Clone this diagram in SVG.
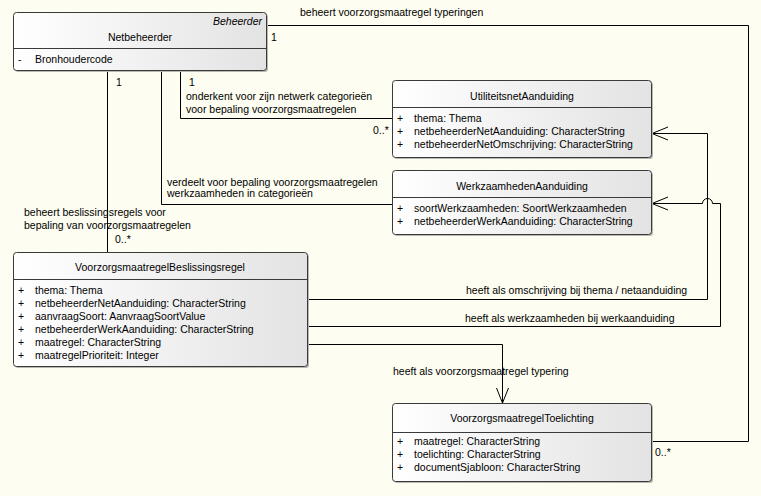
<svg xmlns="http://www.w3.org/2000/svg" width="761" height="496" viewBox="0 0 761 496">
<defs>
<linearGradient id="g" x1="0" y1="0" x2="1" y2="0">
<stop offset="0" stop-color="#FFFFFF"/>
<stop offset="1" stop-color="#E3E3E3"/>
</linearGradient>
<style>
text{font-family:"Liberation Sans",Arial,sans-serif;font-size:10.5px;fill:#000}
.t{text-anchor:middle}
.i{font-style:italic}
.box{fill:url(#g);stroke:#3a3a3a;stroke-width:1}
.sh{fill:#b8b8b0}
.sep{stroke:#3a3a3a;stroke-width:1}
.c{fill:none;stroke:#000;stroke-width:1}
</style>
</defs>
<rect width="761" height="496" fill="#FDFDF1"/>

<g id="connectors">
<path class="c" d="M266,25.5 H748.5 V441.5 H652"/>
<path class="c" d="M107.5,70 V252"/>
<path class="c" d="M180.5,70 V118.5 H392"/>
<path class="c" d="M161.5,70 V204.5 H392"/>
<path class="c" d="M307,299.5 H707.5 V133.5 H652"/>
<path class="c" d="M652,133.5 L668,127 M652,133.5 L668,140"/>
<path class="c" d="M307,326.5 H720.5 V203.5 H712.5 A5,5 0 0 0 702.5,203.5 H652"/>
<path class="c" d="M652,203.5 L668,197 M652,203.5 L668,210"/>
<path class="c" d="M307,344.5 H502.5 V403"/>
<path class="c" d="M502.5,403 L496.5,388 M502.5,403 L508.5,388"/>
<text x="300" y="16">beheert voorzorgsmaatregel typeringen</text>
<text x="271" y="41">1</text>
<text x="655" y="456">0..*</text>
<text x="116" y="86">1</text>
<text x="115" y="243">0..*</text>
<text x="24" y="216">beheert beslissingsregels voor</text>
<text x="24" y="229">bepaling van voorzorgsmaatregelen</text>
<text x="189" y="86">1</text>
<text x="186" y="100">onderkent voor zijn netwerk categorieën</text>
<text x="186" y="113">voor bepaling voorzorgsmaatregelen</text>
<text x="373" y="134">0..*</text>
<text x="167" y="186">verdeelt voor bepaling voorzorgsmaatregelen</text>
<text x="167" y="197">werkzaamheden in categorieën</text>
<text x="466" y="294">heeft als omschrijving bij thema / netaanduiding</text>
<text x="465" y="322">heeft als werkzaamheden bij werkaanduiding</text>
<text x="393" y="375">heeft als voorzorgsmaatregel typering</text>
</g>

<g id="Netbeheerder">
<rect class="sh" x="15" y="14" width="253" height="58" rx="3"/>
<rect class="box" x="13.5" y="12.5" width="253" height="58" rx="3"/>
<line class="sep" x1="13.5" y1="48.5" x2="266.5" y2="48.5"/>
<text class="i" x="262" y="25" text-anchor="end">Beheerder</text>
<text class="t" x="140" y="41">Netbeheerder</text>
<text x="18" y="63">-</text>
<text x="35" y="63">Bronhoudercode</text>
</g>

<g id="UtiliteitsnetAanduiding">
<rect class="sh" x="394" y="82" width="259" height="77" rx="3"/>
<rect class="box" x="392.5" y="80.5" width="259" height="77" rx="3"/>
<line class="sep" x1="392.5" y1="107.5" x2="651.5" y2="107.5"/>
<text class="t" x="522" y="100">UtiliteitsnetAanduiding</text>
<text x="397" y="122">+</text><text x="414" y="122">thema: Thema</text>
<text x="397" y="135">+</text><text x="414" y="135">netbeheerderNetAanduiding: CharacterString</text>
<text x="397" y="148">+</text><text x="414" y="148">netbeheerderNetOmschrijving: CharacterString</text>
</g>

<g id="WerkzaamhedenAanduiding">
<rect class="sh" x="394" y="172" width="259" height="64" rx="3"/>
<rect class="box" x="392.5" y="170.5" width="259" height="64" rx="3"/>
<line class="sep" x1="392.5" y1="197.5" x2="651.5" y2="197.5"/>
<text class="t" x="522" y="190">WerkzaamhedenAanduiding</text>
<text x="397" y="212">+</text><text x="414" y="212">soortWerkzaamheden: SoortWerkzaamheden</text>
<text x="397" y="225">+</text><text x="414" y="225">netbeheerderWerkAanduiding: CharacterString</text>
</g>

<g id="VoorzorgsmaatregelBeslissingsregel">
<rect class="sh" x="15" y="254" width="294" height="114" rx="3"/>
<rect class="box" x="13.5" y="252.5" width="294" height="114" rx="3"/>
<line class="sep" x1="13.5" y1="279.5" x2="307.5" y2="279.5"/>
<text class="t" x="160" y="271">VoorzorgsmaatregelBeslissingsregel</text>
<text x="18" y="294">+</text><text x="35" y="294">thema: Thema</text>
<text x="18" y="307">+</text><text x="35" y="307">netbeheerderNetAanduiding: CharacterString</text>
<text x="18" y="320">+</text><text x="35" y="320">aanvraagSoort: AanvraagSoortValue</text>
<text x="18" y="333">+</text><text x="35" y="333">netbeheerderWerkAanduiding: CharacterString</text>
<text x="18" y="346">+</text><text x="35" y="346">maatregel: CharacterString</text>
<text x="18" y="359">+</text><text x="35" y="359">maatregelPrioriteit: Integer</text>
</g>

<g id="VoorzorgsmaatregelToelichting">
<rect class="sh" x="394" y="405" width="259" height="78" rx="3"/>
<rect class="box" x="392.5" y="403.5" width="259" height="78" rx="3"/>
<line class="sep" x1="392.5" y1="432.5" x2="651.5" y2="432.5"/>
<text class="t" x="522" y="422">VoorzorgsmaatregelToelichting</text>
<text x="397" y="445">+</text><text x="414" y="445">maatregel: CharacterString</text>
<text x="397" y="458">+</text><text x="414" y="458">toelichting: CharacterString</text>
<text x="397" y="471">+</text><text x="414" y="471">documentSjabloon: CharacterString</text>
</g>
</svg>
